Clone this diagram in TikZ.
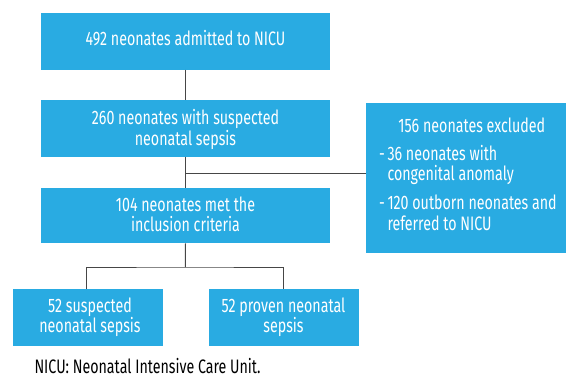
\documentclass[tikz,border=0pt]{standalone}
\usepackage{fontspec}
\setmainfont{Fira Sans}[FakeStretch=0.73]
\definecolor{boxblue}{RGB}{41,171,226}
\definecolor{linegray}{RGB}{70,70,70}
\begin{document}
\begin{tikzpicture}[x=1pt,y=-1pt,
  box/.style={fill=boxblue, draw=none, inner sep=0pt, outer sep=0pt, rectangle},
  txt/.style={anchor=base, text=white, inner sep=0pt, font=\fontsize{19.5}{21}\selectfont},
  txtl/.style={anchor=base west, text=white, inner sep=0pt, font=\fontsize{19.5}{21}\selectfont},
  note/.style={anchor=base west, text=black, inner sep=0pt, font=\fontsize{19.5}{21}\selectfont},
  conn/.style={draw=linegray, line width=1pt}]
\useasboundingbox (0,0) rectangle (568,378);
% boxes
\node[box, minimum width=289pt, minimum height=56.7pt] (b1) at (185.5,41.35) {};
\node[box, minimum width=289pt, minimum height=56.7pt] (b2) at (185.5,128.35) {};
\node[box, minimum width=289pt, minimum height=55.6pt] (b3) at (185.5,215.5) {};
\node[box, minimum width=200pt, minimum height=149.4pt] (bx) at (466,178) {};
\node[box, minimum width=149.7pt, minimum height=56.7pt] (b4) at (87.85,317.35) {};
\node[box, minimum width=150pt, minimum height=56.7pt] (b5) at (284,317.35) {};
% texts
\node[txt] (t1) at (185.5,45) {492 neonates admitted to NICU};
\node[txt] (t2a) at (185.5,124) {260 neonates with suspected};
\node[txt] (t2b) at (185.5,145) {neonatal sepsis};
\node[txt] (t3a) at (185.5,211.7) {104 neonates met the};
\node[txt] (t3b) at (185.5,231.7) {inclusion criteria};
\node[txt] (txa) at (471.8,132.7) {156 neonates excluded};
\node[txtl] (d1) at (379,160.7) {-};
\node[txtl] (tx1a) at (387.3,160.7) {36 neonates with};
\node[txtl] (tx1b) at (387.3,180.7) {congenital anomaly};
\node[txtl] (d2) at (379,209.3) {-};
\node[txtl] (tx2a) at (387.3,209.3) {120 outborn neonates and};
\node[txtl] (tx2b) at (387.3,230) {referred to NICU};
\node[txt] (t4a) at (90,312.3) {52 suspected};
\node[txt] (t4b) at (90,332.3) {neonatal sepsis};
\node[txt] (t5a) at (283.5,312.3) {52 proven neonatal};
\node[txt] (t5b) at (283.5,332.3) {sepsis};
\node[note] (fn) at (34.3,373.5) {NICU: Neonatal Intensive Care Unit.};
% connectors
\coordinate (j1) at (185.3,173.7);
\coordinate (j2) at (185.3,267);
\draw[conn] (b1.south) -- (b2.north);
\draw[conn] (b2.south) -- (b3.north);
\draw[conn] (j1) -- (j1 -| bx.west);
\draw[conn] (b3.south) -- (j2);
\draw[conn] (b4.north -| 86.7,0) |- (j2) -| (b5.north -| 283.3,0);
\end{tikzpicture}
\end{document}
